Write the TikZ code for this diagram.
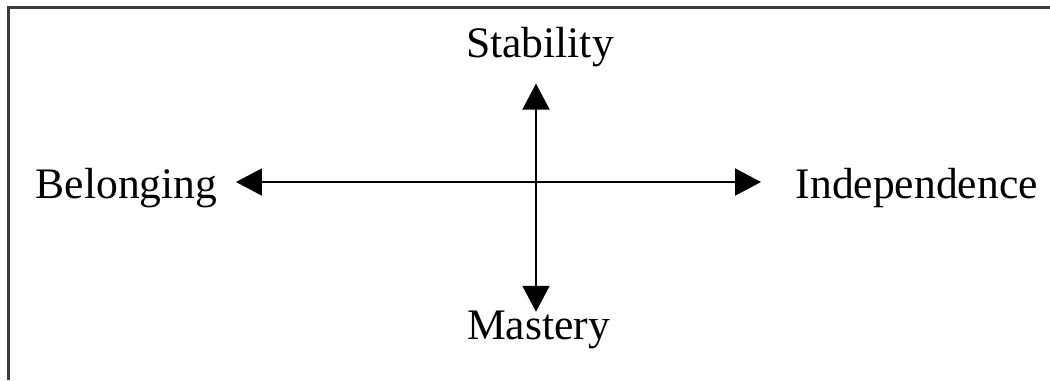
\documentclass[tikz,border=0pt]{standalone}
\usepackage{fontspec}
\setmainfont{Liberation Serif}
\usepackage{tikz}
\usetikzlibrary{positioning, arrows.meta, calc}
\definecolor{Frame}{HTML}{3C3C3C}

\begin{document}
\begin{tikzpicture}[
    lbl/.style={inner sep=0pt, font=\fontsize{12.4pt}{15pt}\selectfont},
    arr/.style={{Triangle[length=2.6mm, width=2.7mm]}-{Triangle[length=2.6mm, width=2.7mm]}, line width=0.6pt, color=black},
    frame/.style={draw=Frame, line width=0.8pt}
]
\useasboundingbox (0,0) rectangle (10.5,3.8);

% Frame (only top and left edges are shown)
\draw[frame] (0.085,0) |- (10.5,3.725);

% Centre of the cross
\coordinate (c) at (5.36,1.98);

% Labels
\node[lbl, anchor=base] (stab) at (5.40,3.23) {Stability};
\node[lbl, anchor=base] (mast) at (5.385,0.41) {Mastery};
\node[lbl, anchor=base west] (belong) at (0.35,1.82) {Belonging};
\node[lbl, anchor=base west] (indep) at (7.95,1.82) {Independence};

% Axes
\draw[arr, shorten <=0.165cm, shorten >=-0.02cm] (c |- stab.south) -- (c |- mast.north);
\draw[arr, shorten <=0.18cm, shorten >=0.34cm] (belong.east |- c) -- (indep.west |- c);

\end{tikzpicture}
\end{document}
